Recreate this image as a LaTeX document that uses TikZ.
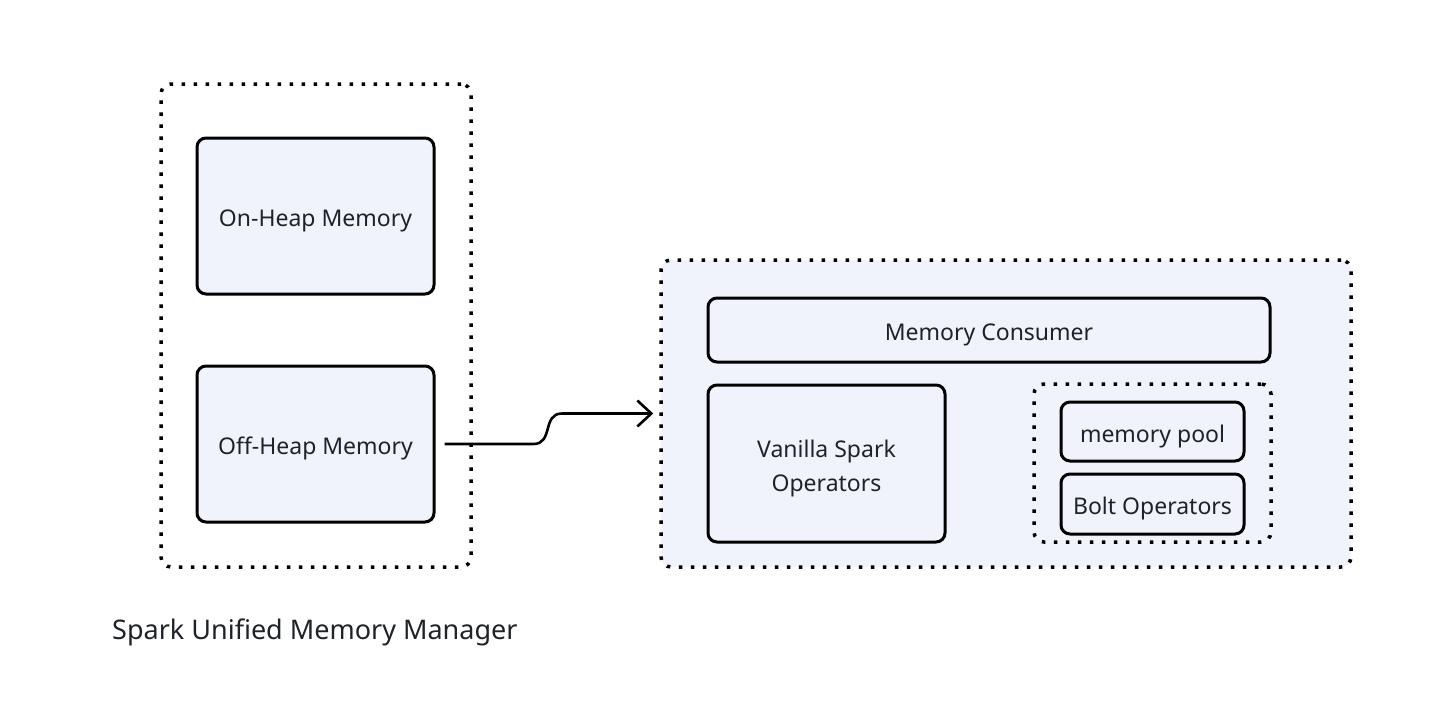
\documentclass[tikz,border=0pt]{standalone}
\usepackage{fontspec}
\setmainfont{Noto Sans}
\usetikzlibrary{arrows.meta}
\definecolor{boxfill}{HTML}{F0F3FB}
\definecolor{txt}{HTML}{1F2329}
\tikzset{
  solidbox/.style={draw=black, line width=3pt, rounded corners=9pt, fill=boxfill, text=txt, font=\fontsize{23}{34}\selectfont, align=center, inner sep=0pt, text height=27pt},
  dotbox/.style={draw=black, line width=3.5pt, dash pattern=on 3.5pt off 8.5pt, rounded corners=10pt},
  conn/.style={draw=black, line width=2.6pt, -{Straight Barb[length=14pt,width=26pt,line width=2.6pt]}},
}
\begin{document}
\begin{tikzpicture}[x=1pt,y=-1pt]
\useasboundingbox[fill=white] (0,0) rectangle (1442,726);
% left group
\node[dotbox, minimum width=310pt, minimum height=483pt] (leftgrp) at (316,325.5) {};
\node[solidbox, minimum width=237pt, minimum height=156pt] (onheap) at (315.5,216) {On-Heap Memory};
\node[solidbox, minimum width=237pt, minimum height=156pt] (offheap) at (315.5,444) {Off-Heap Memory};
\node[anchor=west, text=txt, font=\fontsize{27}{30}\selectfont, inner sep=0pt] (umm) at (112,632) {Spark Unified Memory Manager};
% right group
\node[dotbox, fill=boxfill, minimum width=690pt, minimum height=307pt] (rightgrp) at (1006,413.5) {};
\node[solidbox, minimum width=562pt, minimum height=64pt] (consumer) at (989,330) {Memory Consumer};
\node[solidbox, minimum width=237pt, minimum height=157pt, text height=61pt] (vanilla) at (826.5,463.5) {Vanilla Spark\\Operators};
\node[dotbox, minimum width=237pt, minimum height=158pt] (boltgrp) at (1152.5,463) {};
\node[solidbox, minimum width=183pt, minimum height=59pt] (pool) at (1152.5,431.5) {memory pool};
\node[solidbox, minimum width=183pt, minimum height=60pt] (bolt) at (1152.5,504) {Bolt Operators};
% connector
\coordinate (s) at ([xshift=9pt]offheap.east);
\coordinate (e) at ([xshift=-6pt]rightgrp.west);
\draw[conn] (s) -- ++(89,0) .. controls +(20,0) and +(-20,0) .. (e -| 562,0) -- (e);
\end{tikzpicture}
\end{document}
